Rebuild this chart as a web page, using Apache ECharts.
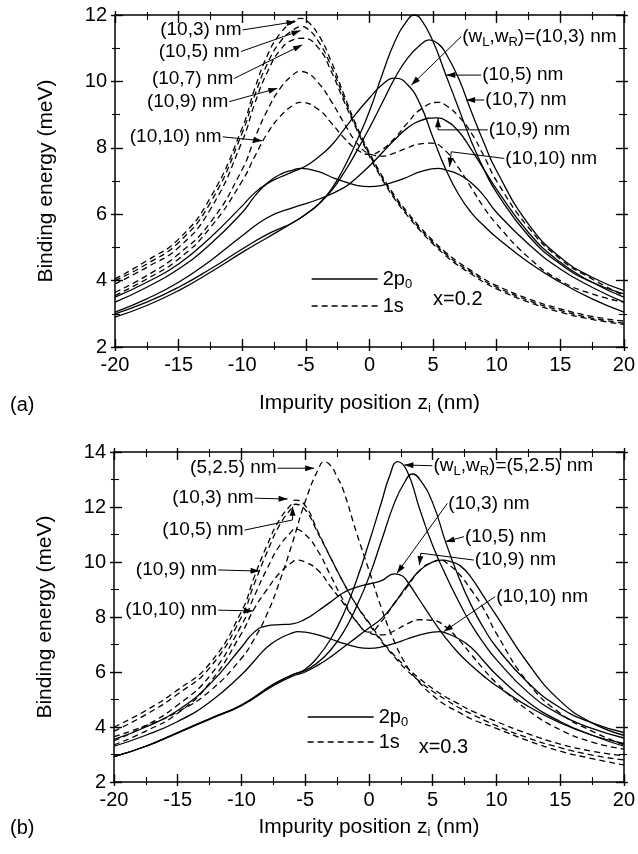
<!DOCTYPE html>
<html>
<head>
<meta charset="UTF-8">
<title>Binding energy vs impurity position</title>
<script src="https://cdn.jsdelivr.net/npm/echarts@6/dist/echarts.min.js"></script>
<style>
  body { margin: 0; background: #fff; }
  #main { width: 638px; height: 854px; }
</style>
</head>
<body>
<div id="main"></div>
<script>
// ---------- panel (a), x = 0.2 : [z (nm), E (meV)] ----------
const a2p_10_3 = [[-20,3.5],[-17.5,3.95],[-15,4.5],[-12.5,5.3],[-10,6.25],[-9,6.65],[-8,6.93],[-7,7.12],[-6,7.28],[-5,7.45],[-4,7.72],[-3,8.07],[-2,8.55],[-1,9.05],[0,9.5],[1,9.9],[2,10.1],[3,9.9],[4,9.3],[5,8.3],[6,7.35],[7,6.6],[8,6.05],[9,5.65],[10,5.3],[12.5,4.55],[15,3.95],[17.5,3.45],[20,3.05]];
const a2p_10_5 = [[-20,3.0],[-17.5,3.35],[-15,3.8],[-12.5,4.35],[-10,4.95],[-8,5.4],[-6,5.75],[-5,6.0],[-4,6.3],[-3,6.75],[-2,7.4],[-1,8.2],[0,9.1],[1,10.2],[2,11.2],[3,11.85],[3.5,12.0],[4,11.9],[5,11.2],[6,10.2],[7,9.2],[8,8.2],[9,7.35],[10,6.65],[12.5,5.35],[15,4.5],[17.5,3.95],[20,3.6]];
const a2p_10_7 = [[-20,2.9],[-17.5,3.25],[-15,3.7],[-12.5,4.25],[-10,4.85],[-8,5.3],[-6,5.75],[-5,6.0],[-4,6.3],[-3,6.7],[-2,7.25],[-1,7.9],[0,8.6],[1,9.35],[2,10.1],[3,10.7],[4,11.1],[4.7,11.25],[5.5,11.1],[6,10.85],[7,10.1],[8,9.1],[9,8.15],[10,7.3],[12.5,5.7],[15,4.7],[17.5,4.1],[20,3.7]];
const a2p_10_9 = [[-20,3.05],[-17.5,3.45],[-15,3.95],[-12.5,4.6],[-10,5.35],[-8,5.9],[-6,6.2],[-4,6.45],[-2,6.8],[-1,7.1],[0,7.45],[1,7.85],[2,8.25],[3,8.6],[4,8.82],[5.3,8.9],[6,8.82],[7,8.5],[8,7.95],[9,7.35],[10,6.75],[12.5,5.45],[15,4.55],[17.5,3.95],[20,3.5]];
const a2p_10_10 = [[-20,3.35],[-17.5,3.8],[-15,4.35],[-12.5,5.1],[-10,6.05],[-9,6.55],[-8,6.95],[-7,7.2],[-6,7.33],[-5.4,7.38],[-4,7.28],[-3,7.12],[-2,6.98],[-1,6.87],[0,6.83],[1,6.87],[2,6.98],[3,7.12],[4,7.28],[5.4,7.38],[6,7.33],[7,7.2],[8,6.95],[9,6.55],[10,6.05],[12.5,5.1],[15,4.35],[17.5,3.8],[20,3.35]];

const a1s_10_3 = [[-20,4.05],[-17.5,4.6],[-15,5.25],[-12.5,6.5],[-10,8.6],[-9,9.8],[-8,10.8],[-7,11.45],[-6,11.8],[-5.4,11.9],[-5,11.85],[-4,11.4],[-3,10.6],[-2,9.6],[-1,8.65],[0,7.85],[1,7.15],[2,6.55],[3,6.05],[4,5.6],[5,5.2],[6,4.85],[7,4.55],[8,4.3],[9,4.05],[10,3.85],[12.5,3.45],[15,3.15],[17.5,2.92],[20,2.78]];
const a1s_10_5 = [[-20,4.0],[-17.5,4.5],[-15,5.15],[-12.5,6.35],[-10,8.45],[-9,9.6],[-8,10.55],[-7,11.2],[-6,11.55],[-5.3,11.65],[-5,11.62],[-4,11.2],[-3,10.45],[-2,9.5],[-1,8.6],[0,7.8],[1,7.1],[2,6.5],[3,6.0],[4,5.55],[5,5.15],[6,4.8],[7,4.5],[8,4.25],[9,4.0],[10,3.8],[12.5,3.4],[15,3.1],[17.5,2.87],[20,2.72]];
const a1s_10_7 = [[-20,3.9],[-17.5,4.4],[-15,5.0],[-12.5,6.15],[-10,8.2],[-9,9.35],[-8,10.3],[-7,10.95],[-6,11.25],[-5.2,11.3],[-4,11.0],[-3,10.3],[-2,9.4],[-1,8.55],[0,7.75],[1,7.05],[2,6.45],[3,5.95],[4,5.5],[5,5.1],[6,4.75],[7,4.45],[8,4.2],[9,3.95],[10,3.75],[12.5,3.35],[15,3.05],[17.5,2.83],[20,2.68]];
const a1s_10_9 = [[-20,3.65],[-17.5,4.15],[-15,4.8],[-12.5,5.75],[-10,7.35],[-9,8.3],[-8,9.15],[-7,9.8],[-6,10.2],[-5.5,10.3],[-5,10.27],[-4,9.95],[-3,9.4],[-2,8.75],[-1,8.15],[0,7.82],[1,7.75],[2,7.85],[3,8.0],[4,8.12],[4.9,8.14],[6,7.9],[7,7.4],[8,6.8],[9,6.2],[10,5.7],[12.5,4.7],[15,4.0],[17.5,3.6],[20,3.35]];
const a1s_10_10 = [[-20,3.55],[-17.5,4.05],[-15,4.65],[-12.5,5.6],[-10,7.0],[-9,7.75],[-8,8.45],[-7,8.95],[-6,9.28],[-5.4,9.37],[-4,9.15],[-3,8.75],[-2,8.3],[-1,7.95],[0,7.8],[1,7.95],[2,8.3],[3,8.75],[4,9.15],[5.4,9.37],[6,9.28],[7,8.95],[8,8.45],[9,7.75],[10,7.0],[12.5,5.6],[15,4.65],[17.5,4.05],[20,3.55]];

// ---------- panel (b), x = 0.3 ----------
const b2p_5_25 = [[-20,2.92],[-17.5,3.3],[-15,3.8],[-12.5,4.3],[-10,4.8],[-7.5,5.55],[-6,5.9],[-5,6.1],[-4,6.55],[-3,7.2],[-2,8.1],[-1,9.3],[0,10.7],[1,12.2],[1.6,13.1],[2.25,13.65],[3,13.3],[4,11.9],[5,10.6],[6,9.55],[7,8.6],[8,7.75],[9,7.05],[10,6.45],[12.5,5.25],[15,4.45],[17.5,3.95],[20,3.6]];
const b2p_10_3 = [[-20,3.55],[-17.5,4.0],[-15,4.6],[-12.5,5.55],[-10,6.9],[-9,7.45],[-8,7.68],[-7,7.72],[-6,7.75],[-5,7.92],[-4,8.22],[-3,8.55],[-2,8.88],[-1,9.08],[0,9.2],[1,9.32],[2,9.57],[2.6,9.5],[3,9.3],[4,8.6],[5,7.9],[6,7.25],[7,6.7],[8,6.25],[9,5.85],[10,5.5],[12.5,4.75],[15,4.15],[17.5,3.7],[20,3.4]];
const b2p_10_5 = [[-20,2.92],[-17.5,3.3],[-15,3.8],[-12.5,4.3],[-10,4.8],[-7.5,5.55],[-6,5.9],[-5,6.05],[-4,6.35],[-3,6.8],[-2,7.45],[-1,8.35],[0,9.45],[1,10.8],[2,12.15],[2.8,12.9],[3.4,13.2],[4,13.0],[5,12.15],[6,10.75],[7,9.5],[8,8.45],[9,7.6],[10,6.9],[12.5,5.6],[15,4.7],[17.5,4.15],[20,3.8]];
const b2p_10_9 = [[-20,2.92],[-17.5,3.3],[-15,3.78],[-12.5,4.28],[-10,4.78],[-7.5,5.5],[-6,5.85],[-5,6.0],[-4,6.25],[-3,6.55],[-2,6.9],[-1,7.25],[0,7.6],[1,7.95],[2,8.5],[3,9.15],[4,9.7],[5,10.0],[5.7,10.07],[6.5,10.0],[7.2,9.85],[8,9.45],[9,8.75],[10,8.05],[12.5,6.3],[15,4.95],[17.5,4.15],[20,3.7]];
const b2p_10_10 = [[-20,3.3],[-17.5,3.7],[-15,4.2],[-12.5,4.9],[-10,5.9],[-9,6.4],[-8,6.9],[-7,7.22],[-6,7.42],[-5.6,7.47],[-5,7.45],[-4,7.35],[-3,7.2],[-2,7.04],[-1,6.91],[0,6.86],[1,6.91],[2,7.04],[3,7.2],[4,7.35],[5,7.45],[5.6,7.47],[6,7.42],[7,7.22],[8,6.9],[9,6.4],[10,5.9],[12.5,4.9],[15,4.2],[17.5,3.7],[20,3.3]];

const b1s_5_25 = [[-20,3.65],[-17.5,4.05],[-15,4.55],[-12.5,5.3],[-10,6.5],[-9,7.2],[-8,8.1],[-7,9.3],[-6,10.7],[-5,12.2],[-4,13.35],[-3.5,13.65],[-3,13.5],[-2.5,13.1],[-2,12.6],[-1,11.1],[0,9.7],[1,8.3],[2,7.1],[3,6.2],[4,5.6],[5,5.15],[6,4.8],[7,4.55],[8,4.3],[10,3.95],[12.5,3.5],[15,3.12],[17.5,2.85],[20,2.62]];
const b1s_10_3 = [[-20,4.0],[-17.5,4.6],[-15,5.35],[-12.5,6.3],[-10,8.2],[-9,9.45],[-8,10.6],[-7,11.55],[-6,12.15],[-5.8,12.25],[-5,12.05],[-4,11.1],[-3,10.15],[-2,9.25],[-1,8.45],[0,7.75],[1,7.1],[2,6.55],[3,6.05],[4,5.65],[5,5.3],[6,5.0],[7,4.72],[8,4.48],[10,4.05],[12.5,3.6],[15,3.25],[17.5,2.98],[20,2.8]];
const b1s_10_5 = [[-20,3.85],[-17.5,4.45],[-15,5.2],[-12.5,6.15],[-10,8.0],[-9,9.2],[-8,10.35],[-7,11.35],[-6,12.0],[-5.8,12.1],[-5,11.9],[-4,11.05],[-3,10.15],[-2,9.25],[-1,8.45],[0,7.8],[1,7.15],[2,6.6],[3,6.15],[4,5.75],[5,5.4],[6,5.1],[7,4.85],[8,4.6],[10,4.2],[12.5,3.75],[15,3.38],[17.5,3.12],[20,2.95]];
const b1s_10_9 = [[-20,3.5],[-17.5,4.05],[-15,4.8],[-12.5,5.85],[-10,7.7],[-9,8.75],[-8,9.75],[-7,10.6],[-6,11.15],[-5.9,11.2],[-5,11.0],[-4,10.4],[-3,9.5],[-2,8.6],[-1,7.85],[0,7.42],[1,7.35],[2,7.5],[3,7.75],[4,7.9],[5,7.88],[6,7.65],[7,7.2],[8,6.65],[9,6.1],[10,5.6],[12.5,4.6],[15,3.9],[17.5,3.45],[20,3.2]];
const b1s_10_10 = [[-20,3.35],[-17.5,3.85],[-15,4.5],[-12.5,5.6],[-10,7.4],[-9,8.3],[-8,9.0],[-7,9.6],[-6,10.0],[-5.7,10.07],[-5,10.0],[-4,9.7],[-3,9.1],[-2,8.5],[-1,7.85],[0,7.45],[1,7.85],[2,8.5],[3,9.1],[4,9.7],[5,10.0],[5.7,10.07],[6,10.0],[7,9.6],[8,9.0],[9,8.3],[10,7.4],[12.5,5.6],[15,4.5],[17.5,3.85],[20,3.35]];

// label text, then the arrow path in data units (first point = where the text sits, last = arrow tip)
const notesA = [
  ['(10,3) nm', 'L', [[-9.98,11.55],[-5.81,11.8]]],
  ['(10,5) nm', 'L', [[-10.1,10.9],[-5.42,11.53]]],
  ['(10,7) nm', 'L', [[-10.63,10.09],[-5.29,11.1]]],
  ['(10,9) nm', 'L', [[-11.02,9.39],[-7.24,9.79]]],
  ['(10,10) nm', 'L', [[-11.54,8.33],[-8.41,8.21]]],
  ['(w{s|L},w{s|R})=(10,3) nm', 'R', [[7.21,11.35],[3.3,9.89]]],
  ['(10,5) nm', 'R', [[8.78,10.19],[6.04,10.19]]],
  ['(10,7) nm', 'R', [[9.03,9.44],[7.6,9.44]]],
  ['(10,9) nm', 'R', [[9.3,8.54],[5.39,8.54],[5.39,8.89]]],
  ['(10,10) nm', 'R', [[10.6,7.68],[6.43,7.88],[6.3,7.43]]]
];
const notesB = [
  ['(5,2.5) nm', 'L', [[-7.16,13.41],[-4.3,13.41]]],
  ['(10,3) nm', 'L', [[-8.97,12.32],[-6.38,12.29]]],
  ['(10,5) nm', 'L', [[-9.75,11.16],[-5.99,11.53],[-5.99,12.01]]],
  ['(10,9) nm', 'L', [[-11.83,9.71],[-8.58,9.67]]],
  ['(10,10) nm', 'L', [[-11.83,8.25],[-9.1,8.22]]],
  ['(w{s|L},w{s|R})=(5,2.5) nm', 'R', [[4.98,13.5],[2.78,13.53]]],
  ['(10,3) nm', 'R', [[6.15,12.13],[2.2,9.59]]],
  ['(10,5) nm', 'R', [[7.45,10.92],[6.02,10.74]]],
  ['(10,9) nm', 'R', [[8.23,10.07],[4.07,10.32],[3.95,9.89]]],
  ['(10,10) nm', 'R', [[9.9,8.74],[5.88,7.47]]]
];

const FONT = "'Liberation Sans', Arial, Helvetica, sans-serif";
const chart = echarts.init(document.getElementById('main'));

const panels = [
  { grid: { left: 115, top: 15, width: 513, height: 332 }, yMax: 12, nameGap: 44,
    solid: [a2p_10_3, a2p_10_5, a2p_10_7, a2p_10_9, a2p_10_10],
    dashed: [a1s_10_3, a1s_10_5, a1s_10_7, a1s_10_9, a1s_10_10],
    notes: notesA, xLabel: ['x=0.2', 5.0, 3.42], legendTop: 267, legendLeft: 311, legendGap: 3, tag: ['(a)', 405] },
  { grid: { left: 114, top: 452, width: 514, height: 330 }, yMax: 14, nameGap: 33,
    solid: [b2p_5_25, b2p_10_3, b2p_10_5, b2p_10_9, b2p_10_10],
    dashed: [b1s_5_25, b1s_10_3, b1s_10_5, b1s_10_9, b1s_10_10],
    notes: notesB, xLabel: ['x=0.3', 3.9, 3.24], legendTop: 705, legendLeft: 307, legendGap: 1, tag: ['(b)', 828] }
];

const tickCol = { color: '#000', width: 1.4 };
function ticks(inside) {
  return {
    axisTick: { inside: inside, length: inside ? 8 : 4, lineStyle: tickCol },
    minorTick: { show: true, splitNumber: 2, length: inside ? 5 : 3, lineStyle: { color: '#000', width: 1.1 } }
  };
}
const subRichE = { s: { fontSize: 13, fontFamily: FONT, color: '#000', padding: [11, 0, 0, 0], verticalAlign: 'top', lineHeight: 13 } };

const xAxes = [], yAxes = [], series = [], legends = [];
panels.forEach((p, gi) => {
  const xc = { gridIndex: gi, type: 'value', min: -20, max: 20, interval: 5, splitLine: { show: false } };
  const yc = { gridIndex: gi, type: 'value', min: 2, max: p.yMax, interval: 2, splitLine: { show: false } };
  const line = { show: true, onZero: false, lineStyle: { color: '#000', width: 1.5 } };
  const noLine = { show: false, onZero: false };
  xAxes.push(
    Object.assign({}, xc, ticks(true), { position: 'bottom', axisLine: line,
      axisLabel: { color: '#000', fontSize: 20, fontFamily: FONT, margin: 8 },
      name: 'Impurity position z{s|i} (nm)', nameLocation: 'middle', nameGap: p.nameGap,
      nameTextStyle: { color: '#000', fontSize: 21, fontFamily: FONT, lineHeight: 24, rich: subRichE } }),
    Object.assign({}, xc, ticks(false), { position: 'bottom', axisLine: noLine, axisLabel: { show: false } }),
    Object.assign({}, xc, ticks(true), { position: 'top', axisLine: line, axisLabel: { show: false } }),
    Object.assign({}, xc, ticks(false), { position: 'top', axisLine: noLine, axisLabel: { show: false } })
  );
  yAxes.push(
    Object.assign({}, yc, ticks(true), { position: 'left', axisLine: line,
      axisLabel: { color: '#000', fontSize: 20, fontFamily: FONT, margin: 8 },
      name: 'Binding energy (meV)', nameLocation: 'middle', nameGap: 58,
      nameTextStyle: { color: '#000', fontSize: 21, fontFamily: FONT } }),
    Object.assign({}, yc, ticks(false), { position: 'left', axisLine: noLine, axisLabel: { show: false } }),
    Object.assign({}, yc, ticks(true), { position: 'right', axisLine: line, axisLabel: { show: false } }),
    Object.assign({}, yc, ticks(false), { position: 'right', axisLine: noLine, axisLabel: { show: false } })
  );
  const addCurve = (data, name, type) => series.push({
    type: 'line', name: name, xAxisIndex: gi * 4, yAxisIndex: gi * 4, data: data,
    showSymbol: false, symbol: 'none', smooth: 0.5, silent: true,
    lineStyle: { color: '#000', width: 1.3, type: type }, itemStyle: { color: '#000' }
  });
  p.solid.forEach(d => addCurve(d, '2p0', 'solid'));
  p.dashed.forEach(d => addCurve(d, '1s', [6, 4]));
  legends.push({
    data: ['2p0', '1s'], orient: 'vertical', left: p.legendLeft, top: p.legendTop, padding: 0,
    itemWidth: 66, itemHeight: 12, itemGap: p.legendGap, selectedMode: false,
    itemStyle: { opacity: 0 }, lineStyle: { width: 1.3 },
    formatter: n => n === '2p0' ? '2p{s|0}' : n,
    textStyle: { color: '#000', fontSize: 20, fontFamily: FONT, lineHeight: 24, rich: subRichE }
  });
});

chart.setOption({
  animation: false,
  backgroundColor: '#fff',
  grid: panels.map(p => p.grid),
  xAxis: xAxes,
  yAxis: yAxes,
  legend: legends,
  series: series
});

// annotations: text + arrow, placed from data coordinates
const subRichZ = { s: { fontSize: 13, fontFamily: FONT, fill: '#000', padding: [11, 0, 0, 0], verticalAlign: 'top', lineHeight: 13 } };
const graphics = [];
panels.forEach((p, gi) => {
  const toPx = v => chart.convertToPixel({ xAxisIndex: gi * 4, yAxisIndex: gi * 4 }, v);
  p.notes.forEach(([txt, side, path]) => {
    const pts = path.map(toPx);
    const a = pts[0];
    graphics.push({
      type: 'text', x: side === 'L' ? a[0] - 1 : a[0] + 1, y: a[1],
      style: { text: txt, fill: '#000', fontSize: 19, fontFamily: FONT, lineHeight: 24,
        align: side === 'L' ? 'right' : 'left', verticalAlign: 'middle', rich: subRichZ }
    });
    graphics.push({ type: 'polyline', shape: { points: pts }, style: { stroke: '#000', lineWidth: 1, fill: null } });
    const t = pts[pts.length - 1], q = pts[pts.length - 2];
    const dx = t[0] - q[0], dy = t[1] - q[1], len = Math.hypot(dx, dy) || 1;
    const ux = dx / len, uy = dy / len, L = 9, W = 3;
    graphics.push({ type: 'polygon', shape: { points: [t,
      [t[0] - ux * L - uy * W, t[1] - uy * L + ux * W],
      [t[0] - ux * L + uy * W, t[1] - uy * L - ux * W]] }, style: { fill: '#000' } });
  });
  const xl = toPx([p.xLabel[1], p.xLabel[2]]);
  graphics.push({ type: 'text', x: xl[0], y: xl[1],
    style: { text: p.xLabel[0], fill: '#000', fontSize: 20, fontFamily: FONT, align: 'left', verticalAlign: 'middle' } });
  graphics.push({ type: 'text', x: 10, y: p.tag[1],
    style: { text: p.tag[0], fill: '#000', fontSize: 20, fontFamily: FONT, align: 'left', verticalAlign: 'middle' } });
});
chart.setOption({ graphic: graphics });
</script>
</body>
</html>
